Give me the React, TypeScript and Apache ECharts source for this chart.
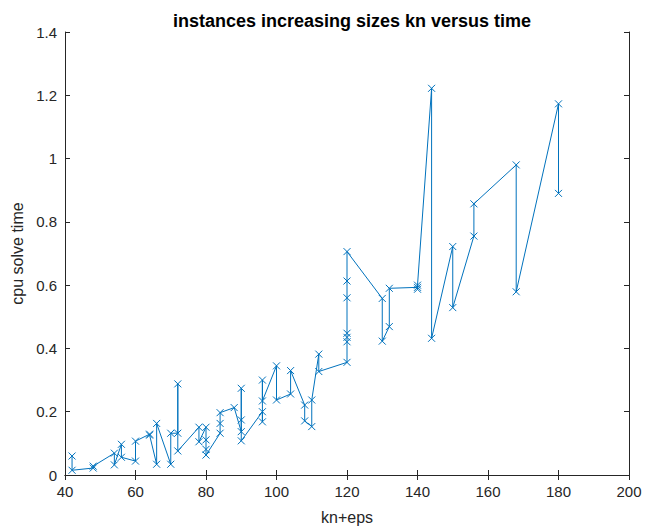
import React, { useEffect, useRef } from "react";
import * as echarts from "echarts";

const knValues: number[] = [
  42, 42, 48, 48, 54, 54, 56, 56, 60, 60, 64, 64, 66, 66, 70, 70, 72, 72, 72,
  78, 78, 80, 80, 80, 80, 84, 84, 84, 88, 90, 90, 90, 90, 96, 96, 96, 96,
  100, 100, 104, 104, 108, 108, 110, 110, 112, 112,
  120, 120, 120, 120, 120, 120, 120, 130, 130, 132, 132, 140, 140, 140,
  144, 144, 150, 150, 156, 156, 168, 168, 180, 180,
];
const cpuTimes: number[] = [
  0.06, 0.015, 0.022, 0.028, 0.069, 0.032, 0.097, 0.056, 0.044, 0.107, 0.129, 0.126,
  0.034, 0.163, 0.034, 0.132, 0.132, 0.288, 0.076,
  0.151, 0.105, 0.151, 0.111, 0.081, 0.063, 0.132, 0.163, 0.197, 0.213,
  0.137, 0.274, 0.174, 0.108, 0.2, 0.168, 0.3, 0.234,
  0.345, 0.237, 0.256, 0.33, 0.221, 0.171, 0.153, 0.237, 0.382, 0.327,
  0.356, 0.421, 0.435, 0.448, 0.56, 0.613, 0.706, 0.558, 0.423, 0.469, 0.59,
  0.593, 0.587, 0.6, 1.222, 0.432, 0.722, 0.529, 0.755, 0.857, 0.98, 0.579,
  1.173, 0.89,
];

const xTicks = { min: 40, max: 200, interval: 20 };
const yTicks = { min: 0, max: 1.4, interval: 0.2 };

const AXIS_COLOR = "#262626";
const LINE_COLOR = "#0072BD";
const FONT = "'Liberation Sans', Arial, Helvetica, sans-serif";

export default function App() {
  const ref = useRef<HTMLDivElement>(null);
  useEffect(() => {
    if (!ref.current) return;
    const chart = echarts.init(ref.current, undefined, { renderer: "svg" });
    const data = knValues.map((x, i) => [x, cpuTimes[i]]);
    const baseAxis = {
      axisLine: { show: true, lineStyle: { color: AXIS_COLOR, width: 1 } },
      axisTick: { show: true, inside: true, length: 5, lineStyle: { color: AXIS_COLOR } },
      splitLine: { show: false },
    };
    chart.setOption({
      animation: false,
      backgroundColor: "#ffffff",
      title: {
        text: "instances increasing sizes kn versus time",
        left: 347,
        textAlign: "center",
        top: 7,
        textStyle: { fontFamily: FONT, fontSize: 18, fontWeight: "bold", color: "#000" },
      },
      grid: {
        left: 65,
        right: 16,
        top: 32,
        bottom: 52,
        containLabel: false,
        outerBoundsMode: "none",
      },
      xAxis: [
        {
          type: "value",
          ...xTicks,
          ...baseAxis,
          name: "kn+eps",
          nameLocation: "middle",
          nameGap: 34,
          nameTextStyle: { fontFamily: FONT, fontSize: 16, color: AXIS_COLOR },
          axisLabel: { fontFamily: FONT, fontSize: 15, color: AXIS_COLOR, margin: 9 },
        },
        {
          type: "value",
          position: "top",
          ...xTicks,
          ...baseAxis,
          axisLabel: { show: false },
        },
      ],
      yAxis: [
        {
          type: "value",
          ...yTicks,
          ...baseAxis,
          name: "cpu solve time",
          nameLocation: "middle",
          nameGap: 32,
          nameTextStyle: { fontFamily: FONT, fontSize: 16, color: AXIS_COLOR },
          axisLabel: {
            fontFamily: FONT,
            fontSize: 15,
            color: AXIS_COLOR,
            margin: 8,
            formatter: (v: number) => String(Math.round(v * 10) / 10),
          },
        },
        {
          type: "value",
          position: "right",
          ...yTicks,
          ...baseAxis,
          axisLabel: { show: false },
        },
      ],
      series: [
        {
          type: "line",
          data,
          xAxisIndex: 0,
          yAxisIndex: 0,
          symbol: "path://M0,0L10,10M10,0L0,10",
          symbolSize: 7,
          showAllSymbol: true,
          itemStyle: { color: LINE_COLOR, borderColor: LINE_COLOR, borderWidth: 1 },
          lineStyle: { color: LINE_COLOR, width: 1 },
        },
      ],
    });
    return () => chart.dispose();
  }, []);
  return (
    <div
      ref={ref}
      style={{ position: "fixed", left: 0, top: 0, width: 645, height: 527 }}
    />
  );
}
